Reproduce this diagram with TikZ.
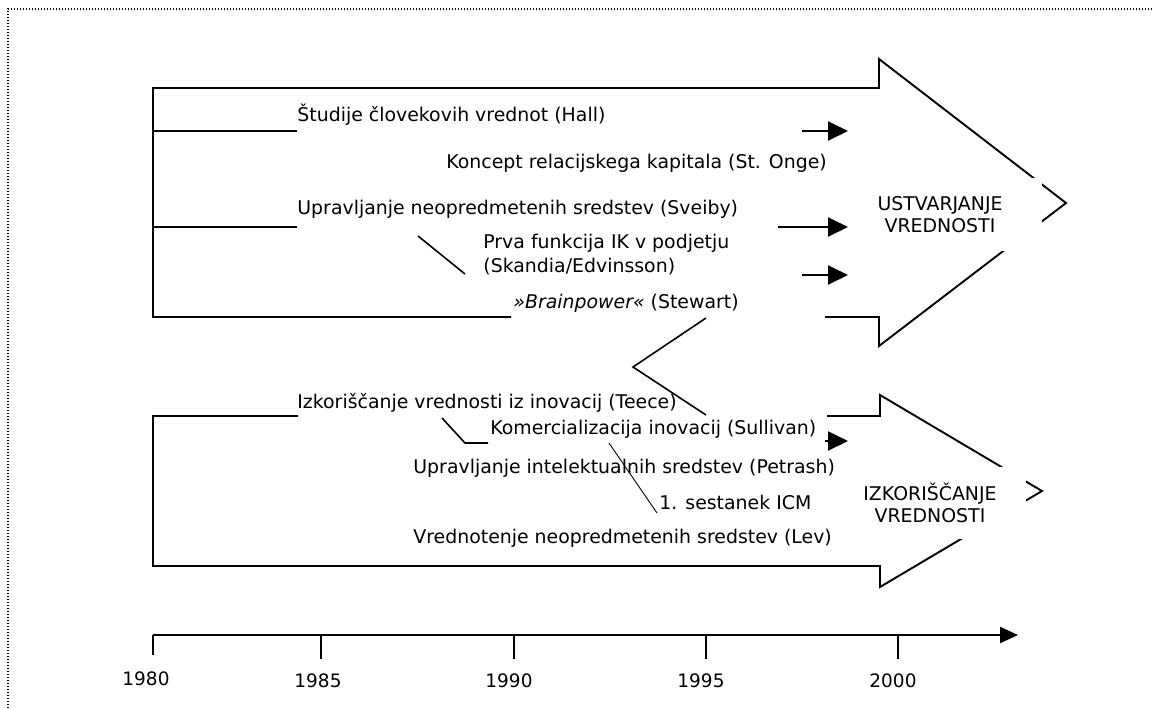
\documentclass[tikz,border=0pt]{standalone}
\usepackage{fontspec}
\setmainfont{DejaVu Sans}
\usetikzlibrary{arrows.meta}

\begin{document}
\begin{tikzpicture}[
  x=0.5pt, y=-0.5pt,
  font=\fontsize{9.45}{12}\selectfont,
  outline/.style={line width=0.95pt, line join=miter},
  txt/.style={anchor=base west, inner sep=0pt, align=left},
  goal/.style={fill=white, align=center, inner sep=0pt,
    font=\fontsize{9.45}{11}\selectfont},
  event/.style={-{Triangle[length=10pt,width=9.5pt]}, line width=1pt},
  callout/.style={line width=0.8pt},
  axis/.style={-{Triangle[length=9pt,width=8pt]}, line width=1pt},
  tick/.style={line width=0.6pt},
  frame/.style={line width=0.6pt, dash pattern=on 0.6pt off 0.9pt}
]
\useasboundingbox (0,0) rectangle (1152,708);

% dotted frame
\draw[frame] (8,708) -- (8,9) -- (1152,9);

% big arrows
\draw[outline] (511,317) -- (153,317) -- (153,88) -- (879,88) -- (879,59)
  -- (1066,203) -- (879,346) -- (879,317) -- (825,317);
\draw[outline] (298,416) -- (153,416) -- (153,566) -- (880,566) -- (880,587)
  -- (1042,491) -- (880,395) -- (880,416) -- (827,416);

\node[goal, minimum width=102pt, minimum height=36.5pt] (create) at (940,214.5)
  {USTVARJANJE\\VREDNOSTI};
\node[goal, minimum width=96pt, minimum height=36pt] (exploit) at (930,503)
  {IZKORIŠČANJE\\VREDNOSTI};

% events
\node[txt] (hall) at (297,121) {Študije človekovih vrednot (Hall)};
\node[txt] (onge) at (446,168) {Koncept relacijskega kapitala (St. Onge)};
\node[txt] (sveiby) at (297,214) {Upravljanje neopredmetenih sredstev (Sveiby)};
\node[txt] (skandia) at (483,272) {Prva funkcija IK v podjetju\\(Skandia/Edvinsson)};
\node[txt] (stewart) at (513,308) {\textit{»Brainpower«} (Stewart)};
\node[txt] (teece) at (297,408) {Izkoriščanje vrednosti iz inovacij (Teece)};
\node[txt] (sullivan) at (490,434) {Komercializacija inovacij (Sullivan)};
\node[txt] (petrash) at (413,473) {Upravljanje intelektualnih sredstev (Petrash)};
\node[txt] (icm) at (659,509) {1. sestanek ICM};
\node[txt] (lev) at (413,543) {Vrednotenje neopredmetenih sredstev (Lev)};

% branches from the left edge
\coordinate (hallL) at (153,131);
\coordinate (hallM) at (297,131);
\coordinate (sveibyL) at (153,227);
\coordinate (sveibyM) at (297,227);
\draw[outline] (hallL) -- (hallM);
\draw[outline] (sveibyL) -- (sveibyM);

\foreach \n/\xa/\yy in {hall/802/131, sveiby/778/227, skandia/802/275, sullivan/825/441} {
  \coordinate (\n-a) at (\xa,\yy);
  \coordinate (\n-b) at (848,\yy);
  \draw[event] (\n-a) -- (\n-b);
}

% callout lines
\coordinate (c1) at (418,236);
\coordinate (c2) at (465,274);
\coordinate (c3) at (442,418);
\coordinate (c4) at (465,443);
\coordinate (c5) at (488,443);
\coordinate (c6) at (609,443);
\coordinate (c7) at (657,513);
\coordinate (c8) at (706,318);
\coordinate (c9) at (633,367);
\coordinate (c10) at (706,415);
\draw[callout] (c1) -- (c2);
\draw[callout] (c3) -- (c4) -- (c5);
\draw[line width=0.45pt] (c6) -- (c7);
\draw[callout] (c8) -- (c9) -- (c10);

% time axis
\foreach \yr/\tx/\te/\lx/\ly in {1980/153/655/146/685, 1985/321/659/318/687,
    1990/514/659/509/687, 1995/706/659/701/687, 2000/898/659/893/687} {
  \coordinate (tick\yr) at (\tx,635);
  \draw[tick] (tick\yr) -- (\tx,\te);
  \node[anchor=base, font=\fontsize{9.25}{11}\selectfont] (year\yr) at (\lx,\ly) {\yr};
}
\coordinate (axisEnd) at (1018,635);
\draw[axis] (tick1980) -- (axisEnd);
\end{tikzpicture}
\end{document}
